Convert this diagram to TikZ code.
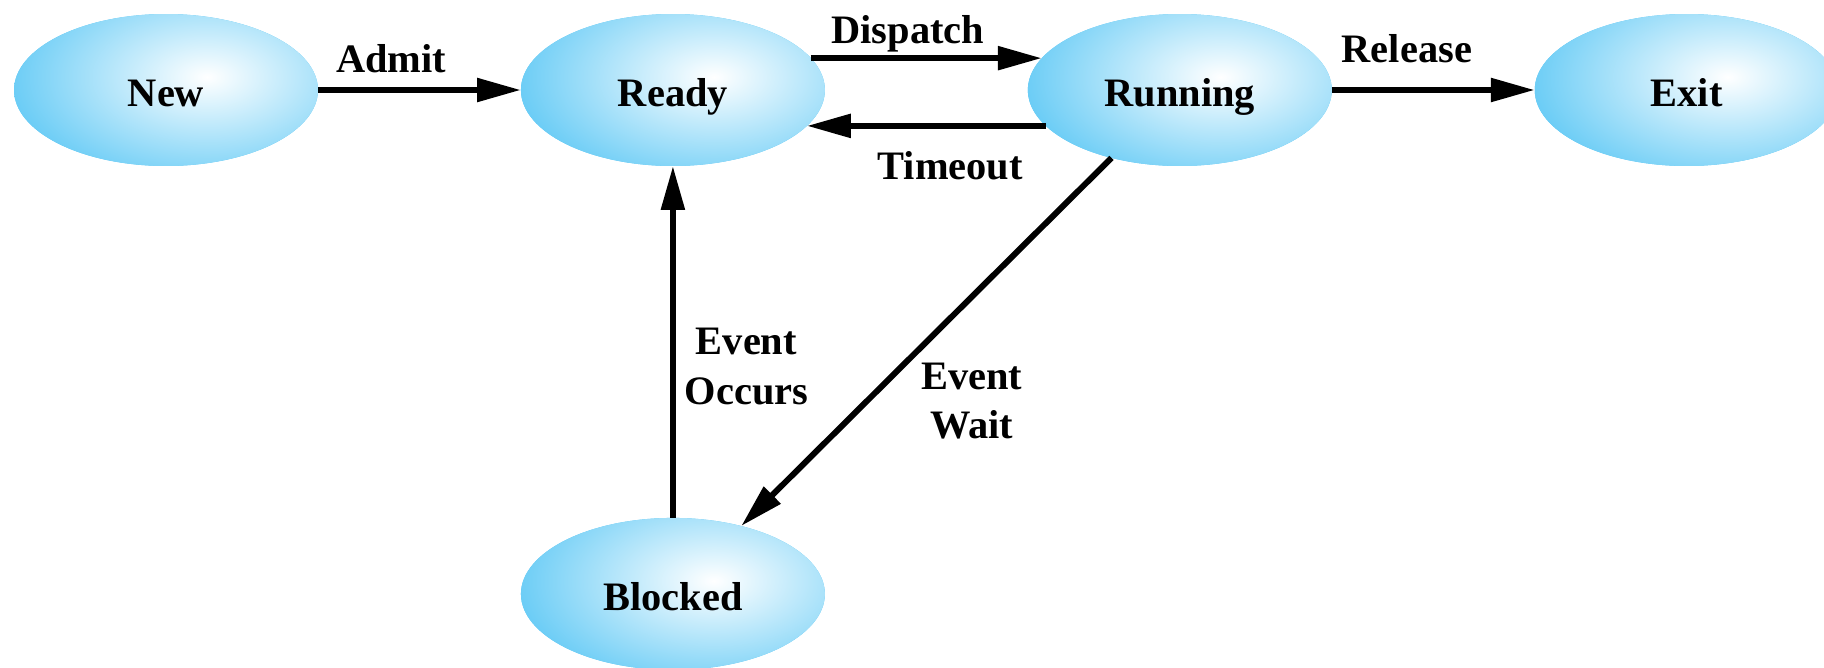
\documentclass[tikz,border=0pt]{standalone}
\usepackage{fontspec}
\setmainfont{Liberation Serif}
\usetikzlibrary{positioning,shapes.geometric,arrows.meta}
\definecolor{BubbleEdge}{RGB}{82,196,244}

\begin{document}
\begin{tikzpicture}[
        x=0.02cm, y=-0.02cm,
        node distance=4.06cm,
        % --- STYLE TRANG THAI ---
        state/.style={
            ellipse,
            minimum width=6.08cm,
            minimum height=3.04cm,
            inner sep=0pt, outer sep=0pt,
            text height=19pt, text depth=0pt,
            fill=BubbleEdge,
            path picture={
                \shade[inner color=white, outer color=BubbleEdge]
                    ([shift={(0.82cm,0.26cm)}]path picture bounding box.center)
                    ellipse [x radius=4.6cm, y radius=2.6cm];
            },
            font=\bfseries\fontsize{23}{28}\selectfont
        },
        % Style mui ten
        trans/.style={
            line width=3.4pt,
            -{Triangle[length=25pt,width=13pt]}
        },
        % Style nhan
        lab/.style={
            font=\bfseries\fontsize{23}{28}\selectfont,
            align=center, inner sep=2pt
        }
    ]
    \useasboundingbox (0,0) rectangle (1824,667);

    % --- CAC TRANG THAI ---
    \node[state] (new) at (166,90) {New};
    \node[state, right=of new] (ready) {Ready};
    \node[state, right=of ready] (running) {Running};
    \node[state, right=of running] (exit) {Exit};
    \node[state, below=7.04cm of ready] (blocked) {Blocked};

    % --- CHUYEN TRANG THAI ---
    \draw[trans] (new) -- node[lab, above=6pt, pos=0.36] {Admit} (ready);
    \draw[trans] (ready.13) -- node[lab, above=0pt, pos=0.42] {Dispatch} (running.167);
    \draw[trans] (running.195) -- node[lab, below=11pt, pos=0.40] {Timeout} (ready.-15);
    \draw[trans] (running) -- node[lab, above=11.7pt, pos=0.37] {Release} (exit);
    \draw[trans] (blocked.north) -- node[lab, right=3pt, pos=0.43] {Event\\Occurs} (ready.south);
    \draw[trans] (running) -- node[lab, right=27pt, pos=0.66] {Event\\Wait} (blocked);

\end{tikzpicture}
\end{document}
